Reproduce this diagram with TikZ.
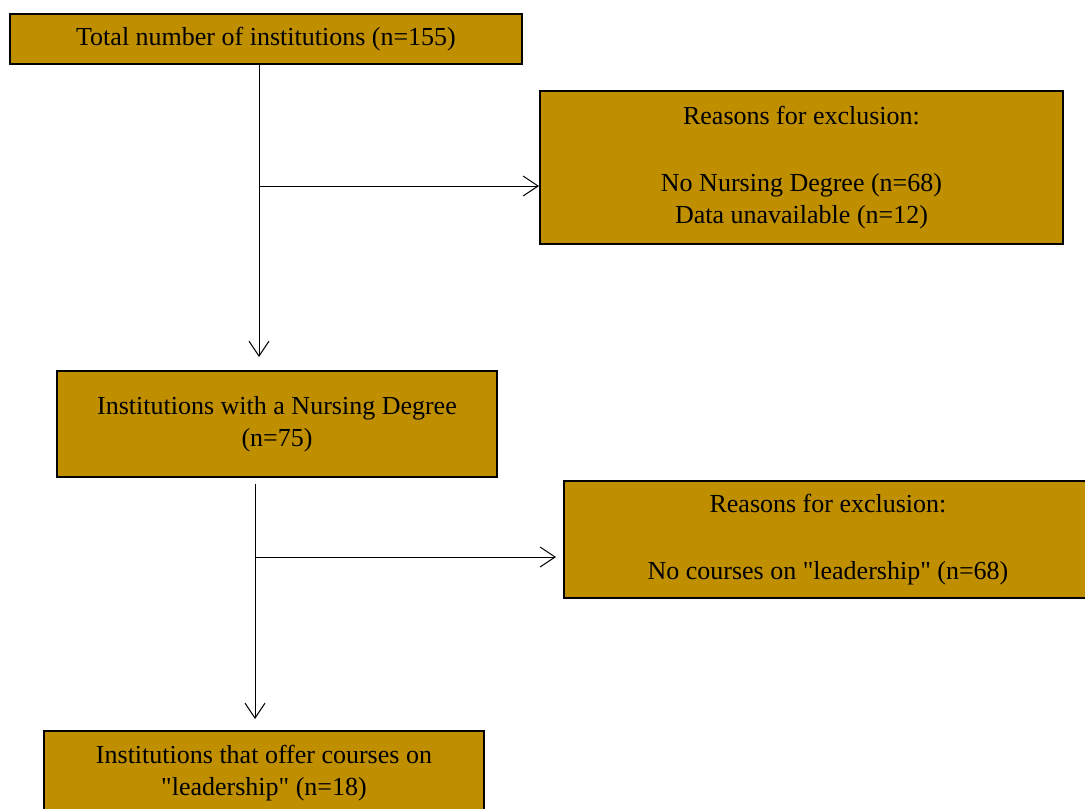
\documentclass[tikz,border=0pt]{standalone}
\usepackage{fontspec}
\setmainfont{Liberation Serif}
\usetikzlibrary{arrows.meta,calc}
\definecolor{boxgold}{HTML}{BF8F00}
\tikzset{
  flowbox/.style={draw=black, line width=2pt, fill=boxgold, align=center, inner sep=0pt,
    font=\fontsize{26}{32}\selectfont},
  conn/.style={line width=1pt, -{Straight Barb[length=15pt,width=20pt,line width=1pt]}}
}
\begin{document}
\begin{tikzpicture}[x=1pt,y=-1pt]
\useasboundingbox (0,0) rectangle (1085,809);
\node[flowbox, minimum width=512pt, minimum height=50pt] (n1) at (266,39) {Total number of institutions (n=155)};
\node[flowbox, minimum width=523pt, minimum height=153pt] (n2) at (801.5,167.5) {Reasons for exclusion:\\[35pt]No Nursing Degree (n=68)\\Data unavailable (n=12)};
\node[flowbox, minimum width=440pt, minimum height=106pt] (n3) at (277,424) {Institutions with a Nursing Degree\\(n=75)};
\node[flowbox, minimum width=528pt, minimum height=117pt] (n4) at (828,539.5) {Reasons for exclusion:\\[35pt]No courses on \textquotedbl leadership\textquotedbl{} (n=68)};
\node[flowbox, minimum width=440pt, minimum height=84pt] (n5) at (264,773) {Institutions that offer courses on\\\textquotedbl leadership\textquotedbl{} (n=18)};
\coordinate (j1) at (259,186);
\coordinate (j2) at (255,557);
\draw[conn, shorten >=13pt] (n1.south -| j1) -- (n3.north -| j1);
\draw[conn] (j1) -- (n2.west |- j1);
\draw[conn, shorten <=6pt, shorten >=11pt] (n3.south -| j2) -- (n5.north -| j2);
\draw[conn, shorten >=7pt] (j2) -- (n4.west |- j2);
\end{tikzpicture}
\end{document}
